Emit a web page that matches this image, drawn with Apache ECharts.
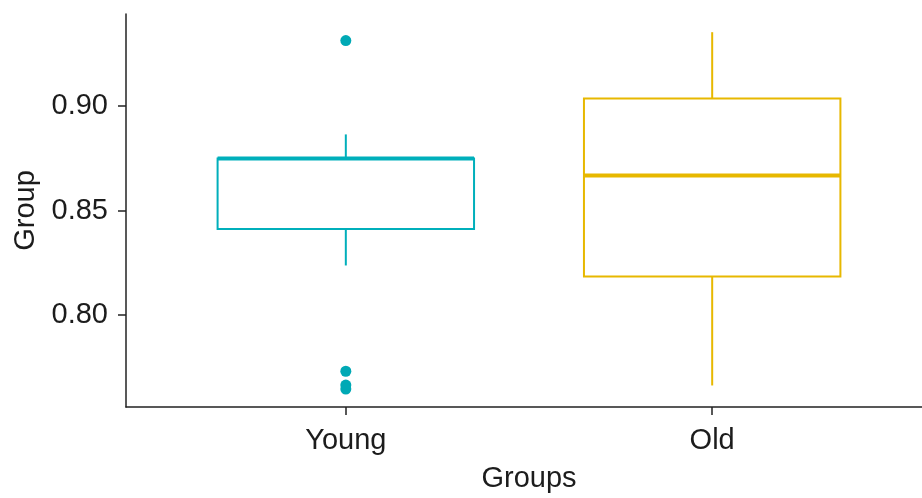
<!DOCTYPE html>
<html>
<head>
<meta charset="utf-8">
<script src="https://cdn.jsdelivr.net/npm/echarts@6/dist/echarts.min.js"></script>
<style>
  html, body { margin: 0; padding: 0; background: #ffffff; }
  #chart { width: 922px; height: 498px; }
</style>
</head>
<body>
<div id="chart"></div>
<script>
// Group summaries (five-number box statistics per group)
const categories = ['Young', 'Old'];
const whiskerLow = [0.8237, 0.7663];
const quartile1 = [0.8412, 0.8184];
const medians = [0.8749, 0.8667];
const quartile3 = [0.8749, 0.9036];
const whiskerHigh = [0.8864, 0.9353];
const boxColors = ['#00AFBB', '#E7B800'];

// Points beyond the whiskers (Young group)
const outlierGroup = [1, 1, 1, 1];
const outlierValues = [0.9313, 0.7731, 0.7665, 0.7646];

// y-axis tick labels
const yTicks = [0.80, 0.85, 0.90];

const boxData = categories.map((c, i) => [
  i + 1, whiskerLow[i], quartile1[i], medians[i], quartile3[i], whiskerHigh[i]
]);
const outlierData = outlierGroup.map((g, i) => [g, outlierValues[i]]);

const FONT = 'Liberation Sans, Arial, sans-serif';
const TEXT = '#1c1c1c';
const BOX_WIDTH = 0.7;

function renderBox(params, api) {
  const x = api.value(0);
  const lo = api.coord([x, api.value(1)]);
  const q1 = api.coord([x, api.value(2)]);
  const md = api.coord([x, api.value(3)]);
  const q3 = api.coord([x, api.value(4)]);
  const hi = api.coord([x, api.value(5)]);
  const half = api.size([BOX_WIDTH, 0])[0] / 2;
  const color = boxColors[params.dataIndex];
  const line = { stroke: color, lineWidth: 2, fill: null };
  return {
    type: 'group',
    children: [
      { type: 'line', shape: { x1: hi[0], y1: hi[1], x2: q3[0], y2: q3[1] }, style: line },
      { type: 'line', shape: { x1: lo[0], y1: lo[1], x2: q1[0], y2: q1[1] }, style: line },
      { type: 'rect', shape: { x: q3[0] - half, y: q3[1], width: half * 2, height: q1[1] - q3[1] },
        style: { stroke: color, lineWidth: 2, fill: '#ffffff' } },
      { type: 'line', shape: { x1: md[0] - half, y1: md[1], x2: md[0] + half, y2: md[1] },
        style: { stroke: color, lineWidth: 4 } }
    ]
  };
}

const chart = echarts.init(document.getElementById('chart'), null, { renderer: 'canvas' });
chart.setOption({
  animation: false,
  backgroundColor: '#ffffff',
  grid: { left: 126, top: 14, width: 806, height: 393, containLabel: false, outerBoundsMode: 'none' },
  xAxis: {
    type: 'value',
    min: 0.4,
    max: 2.6,
    splitLine: { show: false },
    axisLine: { lineStyle: { color: '#222', width: 1.5 } },
    axisTick: { customValues: [1, 2], length: 8, lineStyle: { color: '#222', width: 1.5 } },
    axisLabel: {
      customValues: [1, 2],
      formatter: v => categories[Math.round(v) - 1] || '',
      fontSize: 29, fontFamily: FONT, color: TEXT, margin: 19
    },
    name: 'Groups',
    nameLocation: 'middle',
    nameGap: 57,
    nameTextStyle: { fontSize: 29, fontFamily: FONT, color: TEXT }
  },
  yAxis: {
    type: 'value',
    min: 0.756,
    max: 0.944,
    splitLine: { show: false },
    axisLine: { show: true, lineStyle: { color: '#222', width: 1.5 } },
    axisTick: { show: true, customValues: yTicks, length: 8, lineStyle: { color: '#222', width: 1.5 } },
    axisLabel: {
      customValues: yTicks,
      formatter: v => v.toFixed(2),
      fontSize: 29, fontFamily: FONT, color: TEXT, margin: 18
    },
    name: 'Group',
    nameLocation: 'middle',
    nameGap: 85,
    nameTextStyle: { fontSize: 29, fontFamily: FONT, color: TEXT }
  },
  series: [
    {
      type: 'custom',
      renderItem: renderBox,
      data: boxData,
      encode: { x: 0, y: [1, 2, 3, 4, 5] },
      z: 2
    },
    {
      type: 'scatter',
      data: outlierData,
      symbol: 'circle',
      symbolSize: 11,
      itemStyle: { color: '#00A9B5', opacity: 1 },
      z: 3
    }
  ]
});
</script>
</body>
</html>
